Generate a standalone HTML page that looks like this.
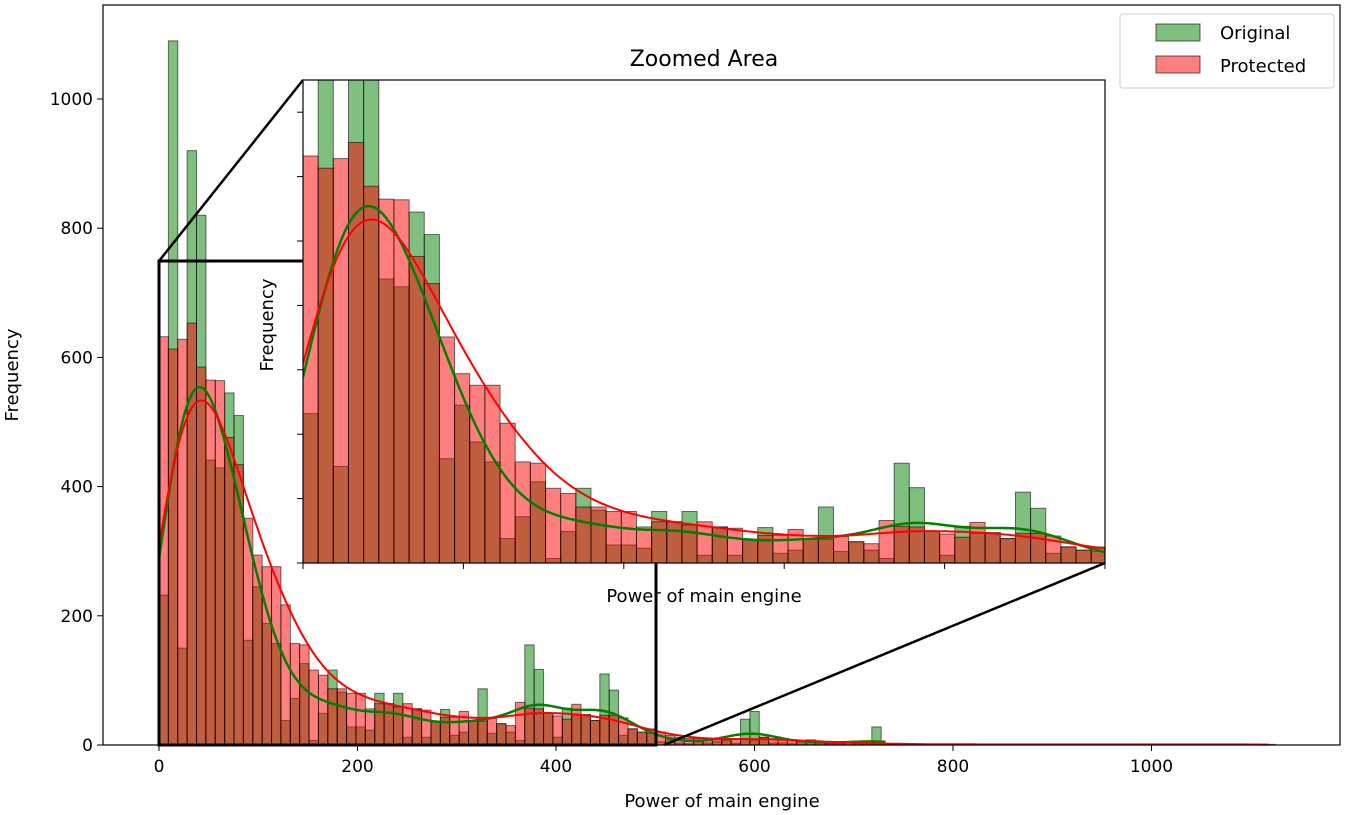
<!DOCTYPE html>
<html><head><meta charset="utf-8"><style>
body{margin:0;background:#fff;}
svg{display:block;font-family:"DejaVu Sans","Liberation Sans",sans-serif;}
</style></head><body>
<svg id="chart" width="1350" height="815" viewBox="0 0 1350 815" xmlns="http://www.w3.org/2000/svg">
<defs>
<clipPath id="insetClip"><rect x="303" y="80" width="802" height="483"/></clipPath>
</defs>
<rect x="0" y="0" width="1350" height="815" fill="#fff"/>
<g id="mainBars"></g>
<g id="mainKde"></g>
<rect x="103" y="5" width="1237" height="740" fill="none" stroke="#000" stroke-width="1.2"/>
<g id="mainTicks"></g>
<text x="722" y="807" text-anchor="middle" font-size="18">Power of main engine</text>
<text transform="translate(18,375) rotate(-90)" text-anchor="middle" font-size="18">Frequency</text>
<rect x="159" y="261" width="497" height="484" fill="none" stroke="#000" stroke-width="3"/>
<line x1="159" y1="261" x2="303" y2="80" stroke="#000" stroke-width="2.5"/>
<line x1="664" y1="745" x2="1105" y2="563" stroke="#000" stroke-width="2.5"/>
<rect x="303" y="80" width="802" height="483" fill="#fff"/>
<g clip-path="url(#insetClip)">
<g id="insetBars"></g>
<g id="insetKde"></g>
</g>
<rect x="303" y="80" width="802" height="483" fill="none" stroke="#000" stroke-width="1.2"/>
<g id="insetTicks"></g>
<text x="704" y="66" text-anchor="middle" font-size="22">Zoomed Area</text>
<text x="704" y="602" text-anchor="middle" font-size="18">Power of main engine</text>
<text transform="translate(273,325) rotate(-90)" text-anchor="middle" font-size="18">Frequency</text>
<g>
<rect x="1120" y="14" width="214" height="74" rx="3" fill="#fff" stroke="#ccc" stroke-width="1"/>
<rect x="1156" y="24" width="44" height="17" fill="rgba(0,128,0,0.5)" stroke="rgba(0,0,0,0.6)"/>
<text x="1220" y="39" font-size="18">Original</text>
<rect x="1156" y="56" width="44" height="17" fill="rgba(255,0,0,0.5)" stroke="rgba(0,0,0,0.6)"/>
<text x="1220" y="72" font-size="18">Protected</text>
</g>
</svg>
<script>
const binWidth = 9.45;
const originalCounts = [232,1090,150,920,820,441,429,545,510,162,245,188,157,38,72,126,7,49,116,82,28,28,23,80,64,80,12,56,
12,36,55,15,20,37,87,18,33,20,7,155,117,49,12,57,46,47,38,110,85,15,25,20,18,
5,8,3,2,5,3,5,8,3,40,52,12,3,3,2,5,8,3,2,2,3,2,2,28,2];
const protectedCounts = [632,613,628,653,585,565,564,476,434,351,294,276,276,217,157,155,116,108,87,87,80,80,56,64,64,59,64,56,
54,36,43,43,52,37,37,41,33,30,66,57,56,49,45,40,63,47,38,46,46,42,25,20,25,
20,15,12,10,10,8,8,8,10,10,8,12,10,8,8,6,6,5,5,4,4,3,3,2,2,2,2,1,1,1,1,1,1,1,1,1,1,1,1,1,1,1,1,1,1,1,1,1,1,1,1,1,1,1,1,1,1,1,1,1,1,1,1,1,1,1];
const xTicks = [0,200,400,600,800,1000];
const yTicks = [0,200,400,600,800,1000];
const insetXTicks = [0,100,200,300,400,500];
const insetYTicks = [0,100,200,300,400,500,600,700];
const kdeBandwidthOriginal = 25;
const kdeBandwidthProtected = 27;

const NS = "http://www.w3.org/2000/svg";
function mk(tag, attrs, parent){const e=document.createElementNS(NS,tag);for(const k in attrs)e.setAttribute(k,attrs[k]);parent.appendChild(e);return e;}
const mainX = u => 159 + u*0.9925, mainY = v => 745 - v*0.646;
const insX = u => 303 + u*1.604, insY = v => 563 - v*0.644;

function kde(counts, x, h){
  let s=0;
  for(let i=0;i<counts.length;i++){const c=(i+0.5)*binWidth;const d=(x-c)/h;s+=counts[i]*Math.exp(-0.5*d*d);}
  return s*binWidth/(h*Math.sqrt(2*Math.PI));
}
function drawBars(g, counts, fill, xf, yf, name){
  counts.forEach((c,i)=>{
    if(c<=0)return;
    const x0=xf(i*binWidth), x1=xf((i+1)*binWidth);
    const r=mk('rect',{x:x0,y:yf(c),width:x1-x0,height:yf(0)-yf(c),fill:fill,stroke:'rgba(0,0,0,0.55)','stroke-width':1},g);
    
    
  });
}
function drawKde(g, counts, h, color, width, xf, yf, name){
  const maxX = counts.length*binWidth - binWidth/2;
  let d='';
  for(let x=0;x<=maxX;x+=2){d+=(d?'L':'M')+xf(x).toFixed(1)+','+yf(kde(counts,x,h)).toFixed(1);}
  const p=mk('path',{d:d,fill:'none',stroke:color,'stroke-width':width,'stroke-linejoin':'round'},g);
  
  
}
const G='rgba(0,128,0,0.5)', R='rgba(255,0,0,0.5)';
const mb=document.getElementById('mainBars'), mk2=document.getElementById('mainKde');
drawBars(mb, originalCounts, G, mainX, mainY, 'bar-original');
drawBars(mb, protectedCounts, R, mainX, mainY, 'bar-protected');
drawKde(mk2, originalCounts, kdeBandwidthOriginal, 'green', 2.5, mainX, mainY, 'kde-original');
drawKde(mk2, protectedCounts, kdeBandwidthProtected, 'red', 2, mainX, mainY, 'kde-protected');
const ib=document.getElementById('insetBars'), ik=document.getElementById('insetKde');
drawBars(ib, originalCounts, G, insX, insY, 'inset-bar-original');
drawBars(ib, protectedCounts, R, insX, insY, 'inset-bar-protected');
drawKde(ik, originalCounts, kdeBandwidthOriginal, 'green', 2.5, insX, insY, 'inset-kde-original');
drawKde(ik, protectedCounts, kdeBandwidthProtected, 'red', 2, insX, insY, 'inset-kde-protected');

const mt=document.getElementById('mainTicks');
xTicks.forEach(t=>{
  const l=mk('line',{x1:mainX(t),x2:mainX(t),y1:745,y2:751,stroke:'#000','stroke-width':1},mt);
  
  
  const tx=mk('text',{x:mainX(t),y:772,'text-anchor':'middle','font-size':17},mt);tx.textContent=t;
  
  
});
yTicks.forEach(t=>{
  const l=mk('line',{x1:97,x2:103,y1:mainY(t),y2:mainY(t),stroke:'#000','stroke-width':1},mt);
  
  
  const tx=mk('text',{x:93,y:mainY(t)+6,'text-anchor':'end','font-size':17},mt);tx.textContent=t;
  
  
});
const it=document.getElementById('insetTicks');
insetXTicks.forEach(t=>{
  const l=mk('line',{x1:insX(t),x2:insX(t),y1:563,y2:569,stroke:'#000','stroke-width':1},it);
  
  
});
insetYTicks.forEach(t=>{
  const l=mk('line',{x1:297,x2:303,y1:insY(t),y2:insY(t),stroke:'#000','stroke-width':1},it);
  
  
});
</script>
</body></html>
